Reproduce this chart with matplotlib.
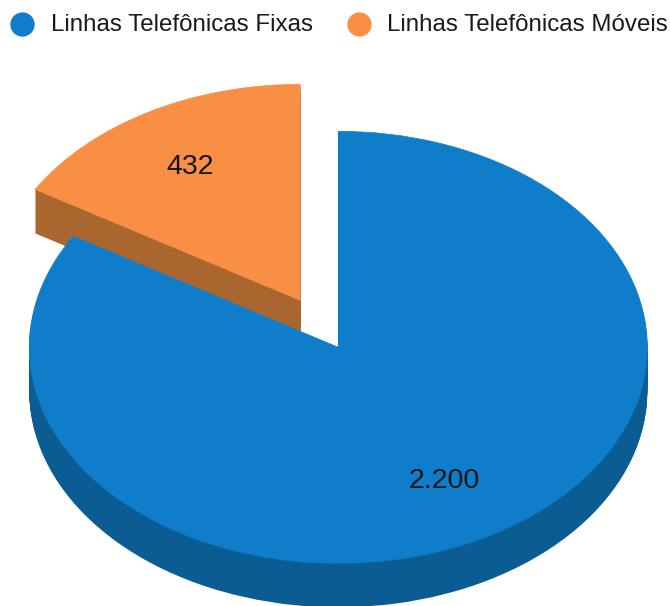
import matplotlib
matplotlib.use("Agg")
import matplotlib.pyplot as plt

labels = ["Linhas Telefônicas Fixas", "Linhas Telefônicas Móveis"]
values = [2200, 432]
value_labels = ["2.200", "432"]
explode = [0, 0.25]
top_colors = ["#107dcb", "#f88f45"]
side_colors = ["#0b5c93", "#a9672f"]

W, H = 670, 606
cx, cy = 338.3, 347.3
rx, ry = 309, 216
depth = 44

plt.rcParams["font.family"] = ["Liberation Sans", "DejaVu Sans"]

fig = plt.figure(figsize=(W / 100, H / 100), dpi=100)
ax = fig.add_axes([0, 0, 1, 1])


def pie_layer(drop, colors, z_blue, z_orange, lw=0):
    wedges, _ = ax.pie(values, explode=explode, colors=colors, startangle=90,
                       counterclock=False, center=(0, -drop / ry),
                       wedgeprops={"linewidth": lw})
    wedges[0].set_zorder(z_blue)
    wedges[1].set_zorder(z_orange)
    for w, c in zip(wedges, colors):
        w.set_edgecolor(c)


# side of the pie is a stack of darker pies
for d in range(1, depth + 1):
    pie_layer(d, side_colors, 3, 1)
pie_layer(0, top_colors, 4, 2, lw=0.5)

# pie() forces a round pie, stretch the axes to get the tilted look
ax.set_aspect("auto")
ax.set_xlim(-cx / rx, (W - cx) / rx)
ax.set_ylim(-(H - cy) / ry, cy / ry)
ax.axis("off")

# value labels and legend in pixel coordinates
ov = fig.add_axes([0, 0, 1, 1], zorder=5)
ov.axis("off")
ov.patch.set_alpha(0)

ov.text(444.5, 481, value_labels[0], fontsize=20.5, color="#151515", ha="center", va="center")
ov.text(190.5, 167, value_labels[1], fontsize=20.5, color="#151515", ha="center", va="center")

ov.plot([21.5], [23.5], linestyle="none", marker="o", markersize=17.5, color=top_colors[0], markeredgewidth=0)
ov.plot([359], [23.5], linestyle="none", marker="o", markersize=17.5, color=top_colors[1], markeredgewidth=0)
ov.text(51, 25, labels[0], fontsize=17.4, color="#1a1a1a", ha="left", va="center")
ov.text(387, 25, labels[1], fontsize=17.4, color="#1a1a1a", ha="left", va="center")
ov.set_xlim(0, W)
ov.set_ylim(H, 0)

fig.savefig("out.png", dpi=100)
